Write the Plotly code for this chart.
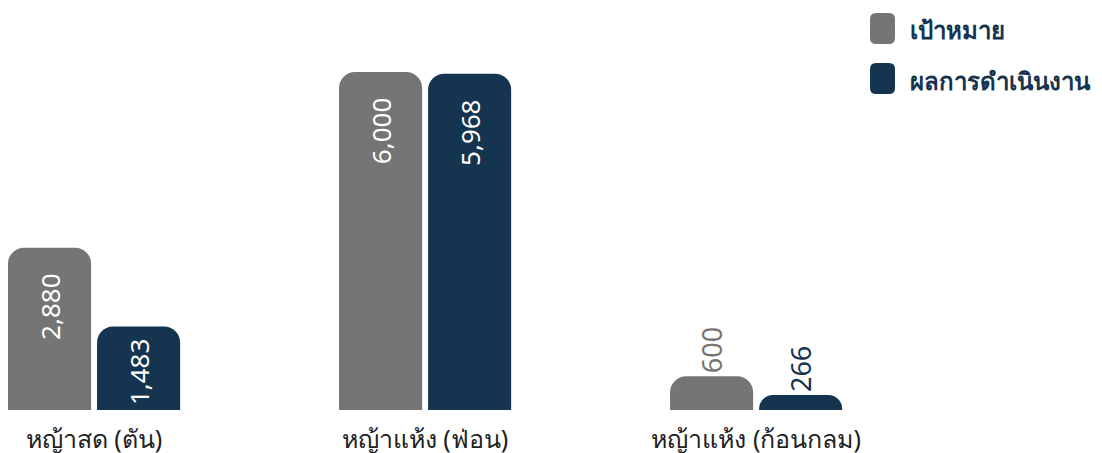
import plotly.graph_objects as go

categories = ["หญ้าสด (ตัน)", "หญ้าแห้ง (ฟ่อน)", "หญ้าแห้ง (ก้อนกลม)"]
series_names = ["เป้าหมาย", "ผลการดำเนินงาน"]
target = [2880, 6000, 600]
actual = [1483, 5968, 266]
colors = ["#757575", "#15344f"]

FONT = "Noto Sans, sans-serif"
NBSP = "\u00a0"

W, H = 1102, 453
ML, MR, MT, MB = 0, 0, 20, 51
PW, PH = W - ML - MR, H - MT - MB

def positions(vals):
    return ["inside" if v >= 1000 else "outside" for v in vals]

def labels(vals):
    out = []
    for v in vals:
        s = f"{v:,}"
        if v >= 2000:
            s += NBSP * 3
        elif v >= 1000:
            s += NBSP
        out.append(s)
    return out

fig = go.Figure()
for name, vals, col in zip(series_names, [target, actual], colors):
    fig.add_trace(go.Bar(
        x=categories, y=vals, name=name,
        marker=dict(color=col, line=dict(width=0)),
        text=labels(vals),
        textposition=positions(vals),
        textangle=-90,
        insidetextanchor="end",
        constraintext="none",
        insidetextfont=dict(color="white", size=26, family=FONT),
        outsidetextfont=dict(color=col, size=27, family=FONT),
        cliponaxis=False,
        showlegend=False,
        hoverinfo="skip",
    ))

def px(x):
    return (x - ML) / PW

def py(y):
    return 1 - (y - MT) / PH

def P(x, y):
    return f"{px(x)},{py(y)}"

# custom legend (rounded square markers), pixel positions within the figure
leg_y = [20, 70]
for name, col, yc in zip(series_names, colors, leg_y):
    x0, x1 = 862, 887
    y0, y1 = yc - 15, yc + 16
    r = 6
    ppath = (f"M{P(x0+r,y0)} L{P(x1-r,y0)} Q{P(x1,y0)} {P(x1,y0+r)} L{P(x1,y1-r)} Q{P(x1,y1)} {P(x1-r,y1)} "
             f"L{P(x0+r,y1)} Q{P(x0,y1)} {P(x0,y1-r)} L{P(x0,y0+r)} Q{P(x0,y0)} {P(x0+r,y0)} Z")
    fig.add_shape(type="path", xref="paper", yref="paper", path=ppath,
                  fillcolor=col, line=dict(width=0), layer="above")
    fig.add_annotation(x=px(900), y=py(yc + 2), xref="paper", yref="paper",
                       text=f"<b>{name}</b>", showarrow=False, xanchor="left", yanchor="middle",
                       font=dict(size=24, color="#15344f", family=FONT))

fig.update_layout(
    width=W, height=H,
    margin=dict(l=ML, r=MR, t=MT, b=MB),
    paper_bgcolor="white", plot_bgcolor="white",
    barmode="group", bargap=0.462, bargroupgap=0.067,
    barcornerradius=16,
    font=dict(family=FONT),
    xaxis=dict(range=[-0.26, 3.069], showgrid=False, zeroline=False, showline=False,
               ticks="", tickfont=dict(size=25, color="#222222", family=FONT),
               ticklabelstandoff=12),
    yaxis=dict(range=[0, 6781], visible=False, showgrid=False, zeroline=False),
)

fig.write_html("out.html")
